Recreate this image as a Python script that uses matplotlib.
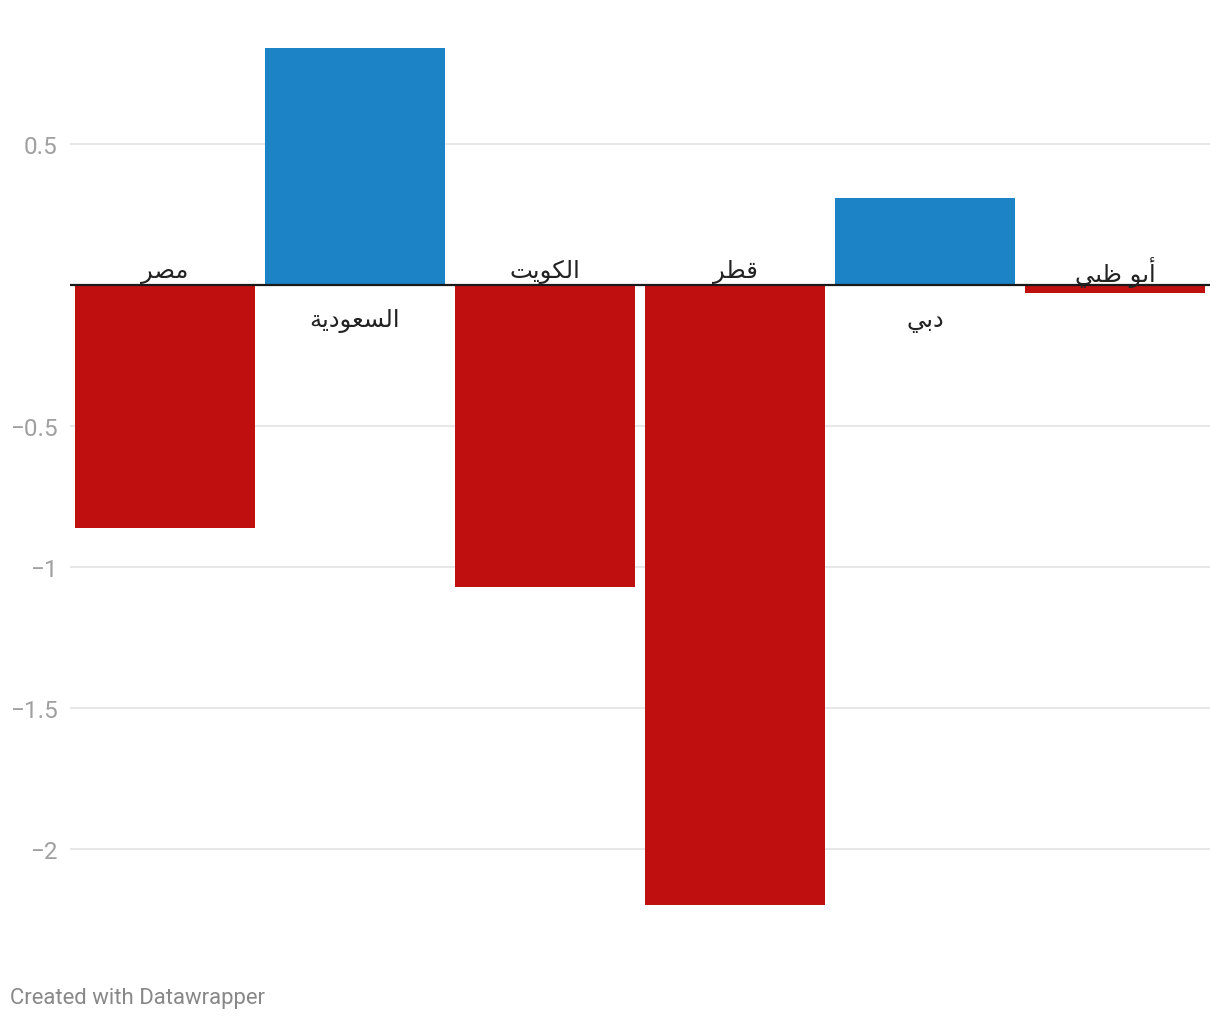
import unicodedata
import matplotlib
matplotlib.use("Agg")
import matplotlib.pyplot as plt

# data
countries = ["مصر", "السعودية", "الكويت", "قطر", "دبي", "أبو ظبي"]
values = [-0.86, 0.84, -1.07, -2.2, 0.31, -0.03]
tick_values = [0.5, -0.5, -1, -1.5, -2]
tick_labels = ["0.5", "\u22120.5", "\u22121", "\u22121.5", "\u22122"]

BLUE = "#1b83c6"
RED = "#c00f0f"

# letters that never join to the following letter
RIGHT_JOINING = set("اأإآدذرزوؤةى")


def is_arabic(ch):
    return "\u0600" <= ch <= "\u06ff"


def shape_arabic(text):
    # matplotlib has no text shaping, so pick presentation forms by hand
    out = []
    for i, ch in enumerate(text):
        if not is_arabic(ch):
            out.append(ch)
            continue
        prev = text[i - 1] if i > 0 else ""
        nxt = text[i + 1] if i + 1 < len(text) else ""
        joins_prev = bool(prev) and is_arabic(prev) and prev not in RIGHT_JOINING
        joins_next = bool(nxt) and is_arabic(nxt) and ch not in RIGHT_JOINING
        if joins_prev and joins_next:
            form = "MEDIAL FORM"
        elif joins_prev:
            form = "FINAL FORM"
        elif joins_next:
            form = "INITIAL FORM"
        else:
            form = "ISOLATED FORM"
        try:
            out.append(unicodedata.lookup(unicodedata.name(ch) + " " + form))
        except KeyError:
            out.append(ch)
    return "".join(reversed(out))


plt.rcParams["font.family"] = ["Roboto", "DejaVu Sans"]

fig = plt.figure(figsize=(12.2, 10.2), dpi=100)
ax = fig.add_axes([70 / 1220, 99 / 1020, 1140 / 1220, 880 / 1020])

x = list(range(len(countries)))
colors = [BLUE if v > 0 else RED for v in values]
ax.bar(x, values, width=0.945, color=colors, zorder=2)

ax.set_xlim(-0.5, len(countries) - 0.5)
ax.set_ylim(-2.252, 0.869)

for t in tick_values:
    ax.axhline(t, color="#e3e3e3", lw=1.2, zorder=1)
ax.axhline(0, color="#1a1a1a", lw=1.6, zorder=3)

ax.set_yticks(tick_values)
ax.set_yticklabels(tick_labels, color="#a0a0a0", fontsize=17.5)
ax.tick_params(axis="y", length=0, pad=9)
ax.set_xticks([])
for s in ax.spines.values():
    s.set_visible(False)

for xi, name, v in zip(x, countries, values):
    if v < 0:
        off = 10
    else:
        off = -25
    ax.annotate(shape_arabic(name), (xi, 0), xytext=(0, off),
                textcoords="offset points", ha="center", va="center",
                fontsize=17.5, color="#222222", family=["DejaVu Sans"],
                zorder=4)

fig.text(10 / 1220, 1 - 999 / 1020, "Created with Datawrapper",
         fontsize=15.9, color="#888888", ha="left", va="center")

fig.savefig("out.png", dpi=100)
